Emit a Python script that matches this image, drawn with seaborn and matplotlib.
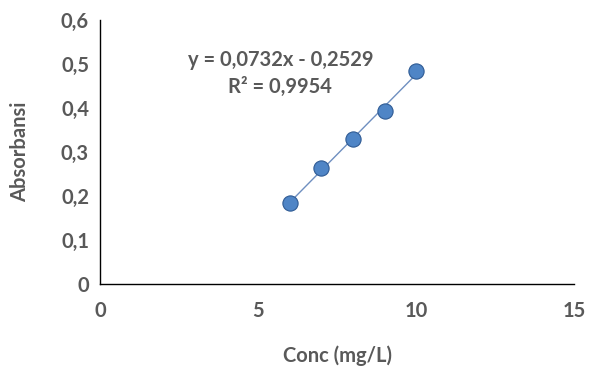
import matplotlib
matplotlib.use("Agg")
import matplotlib.pyplot as plt
import seaborn as sns
import pandas as pd

# calibration data
conc = [6, 7, 8, 9, 10]
absorbance = [0.184, 0.264, 0.330, 0.393, 0.484]
equation = "y = 0,0732x - 0,2529"
r_squared = "R² = 0,9954"

df = pd.DataFrame({"conc": conc, "abs": absorbance})

sns.set_style("white")
plt.rcParams['font.family'] = ['Lato', 'DejaVu Sans']
gray = "#595959"
fs = 14.5

fig = plt.figure(figsize=(5.89, 3.72), dpi=100)
ax = fig.add_axes([0.170, 0.237, 0.805, 0.709])

sns.regplot(data=df, x="conc", y="abs", ax=ax, ci=None, truncate=True,
            scatter_kws={"s": 120, "color": "#4f85c6", "edgecolor": "#2f5b94",
                         "linewidths": 0.8, "alpha": 1, "zorder": 3},
            line_kws={"color": "#6f8fc0", "linewidth": 1.0, "zorder": 2})

ax.set_xlim(0, 15)
ax.set_ylim(0, 0.6)
ax.set_xticks([0, 5, 10, 15])
ax.set_yticks([0, 0.1, 0.2, 0.3, 0.4, 0.5, 0.6])
ax.set_xticklabels(["0", "5", "10", "15"])
ax.set_yticklabels(["0", "0,1", "0,2", "0,3", "0,4", "0,5", "0,6"])
ax.tick_params(axis="both", length=0, labelsize=fs, labelcolor=gray)
ax.tick_params(axis="x", pad=12)
ax.tick_params(axis="y", pad=8)
for lab in ax.get_xticklabels() + ax.get_yticklabels():
    lab.set_fontweight("bold")

sns.despine(ax=ax)
for side in ["left", "bottom"]:
    ax.spines[side].set_color("black")
    ax.spines[side].set_linewidth(1.0)

ax.set_xlabel("Conc (mg/L)", fontsize=fs, fontweight="bold", color=gray, labelpad=18)
ax.set_ylabel("Absorbansi", fontsize=fs, fontweight="bold", color=gray, labelpad=22)

ax.text(5.7, 0.509, equation, ha="center", va="center", fontsize=fs,
        fontweight="bold", color=gray)
ax.text(5.7, 0.448, r_squared, ha="center", va="center", fontsize=fs,
        fontweight="bold", color=gray)

fig.savefig("out.png", dpi=100)
